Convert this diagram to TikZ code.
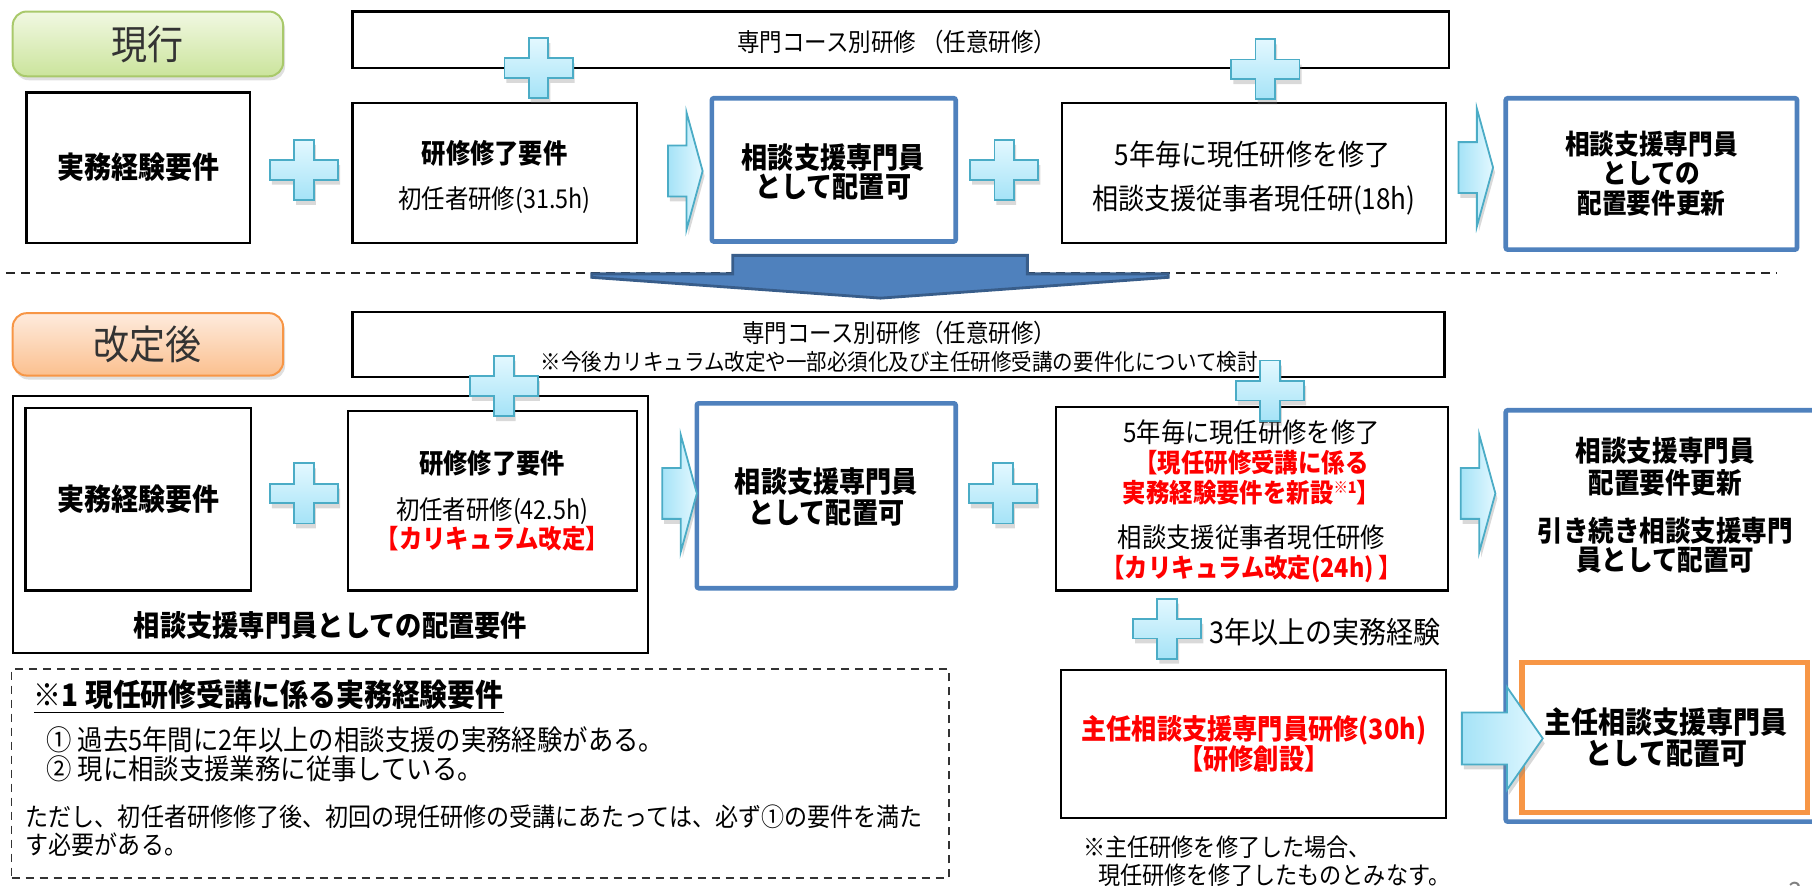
\documentclass[tikz,border=0pt]{standalone}
\usepackage{fontspec}
\setmainfont{Noto Sans CJK JP}[FakeStretch=0.9]
\usetikzlibrary{fit,shadows}
\definecolor{bluebox}{HTML}{4F81BD}
\definecolor{bluedark}{HTML}{385D8A}
\definecolor{cyanedge}{HTML}{4BACC6}
\definecolor{cyantop}{HTML}{E3F8FF}
\definecolor{cyanbot}{HTML}{A5E3F7}
\definecolor{orangeedge}{HTML}{F79646}
\definecolor{orangetop}{HTML}{FEEBDD}
\definecolor{orangebot}{HTML}{FBC08F}
\definecolor{greenedge}{HTML}{A9C96B}
\definecolor{greentop}{HTML}{F1F8E2}
\definecolor{greenbot}{HTML}{CBE49C}
\definecolor{redtxt}{HTML}{FF0000}
\newcommand\myfs[1]{\fontsize{#1}{#1}\selectfont}
\tikzset{
  box/.style={draw=black, line width=1.1pt, inner sep=0pt},
  bluebx/.style={draw=bluebox, line width=2.3pt, inner sep=0pt, rounded corners=1pt},
  orangebx/.style={draw=orangeedge, line width=2.6pt, inner sep=0pt},
  tagbox/.style={inner sep=0pt, rounded corners=7pt, line width=1pt,
     drop shadow={shadow xshift=1pt, shadow yshift=-2pt, opacity=0.25}},
  tagG/.style={tagbox, draw=greenedge, top color=greentop, bottom color=greenbot},
  tagO/.style={tagbox, draw=orangeedge, top color=orangetop, bottom color=orangebot},
  tagtxt/.style={inner sep=0pt, text=black!80, font=\myfs{20}},
  txt/.style={inner sep=0pt, align=center},
  redb/.style={txt, text=redtxt, font={\myfs{#1}\bfseries}},
  cyanshape/.style={draw=cyanedge, line width=0.9pt,
     drop shadow={shadow xshift=1pt, shadow yshift=-2.5pt, opacity=0.3}},
  pics/plusmark/.style={code={
    \path[cyanshape, top color=cyantop, bottom color=cyanbot]
      (-29.5,-8.5) -- (-8.5,-8.5) -- (-8.5,-26) -- (8.5,-26) -- (8.5,-8.5) -- (29.5,-8.5)
      -- (29.5,8.5) -- (8.5,8.5) -- (8.5,26) -- (-8.5,26) -- (-8.5,8.5) -- (-29.5,8.5) -- cycle;}},
  pics/rarrowsmall/.style={code={
    \path[cyanshape, left color=cyanbot, right color=cyantop]
      (0,-22) -- (16,-22) -- (16,-51) -- (30,0) -- (16,51) -- (16,22) -- (0,22) -- cycle;}},
  pics/rarrowbig/.style={code={
    \path[cyanshape, left color=cyanbot, right color=cyantop]
      (0,-22.5) -- (39,-22.5) -- (39,-44.5) -- (70,0) -- (39,44.5) -- (39,22.5) -- (0,22.5) -- cycle;}}
}
\begin{document}
\begin{tikzpicture}[x=0.5778pt, y=-0.5778pt]
\useasboundingbox (0,0) rectangle (1568,766);

% ---------------- current ----------------
\node[tagG, fit={(11,10) (245,66)}] (tag1) {};
\node[tagtxt] (tag1t) at (128,38) {現行};
\node[box, fit={(305,10) (1254,59)}] (course1) {};
\node[txt, font=\myfs{12.5}] (course1t) at (776,36) {専門コース別研修 （任意研修）};
\node[box, fit={(23,80) (216,210)}] (req1) {};
\node[txt, font={\myfs{15}\bfseries}] (req1t) at (119.5,145) {実務経験要件};
\node[box, fit={(305,89) (551,210)}] (trn1) {};
\node[txt, font={\myfs{13.5}\bfseries}] (trn1a) at (428,133) {研修修了要件};
\node[txt, font=\myfs{13}] (trn1b) at (428,173) {初任者研修(31.5h)};
\node[bluebx, fit={(616,85) (827,209)}] (pos1) {};
\node[txt, font={\myfs{14.5}\bfseries}] (pos1a) at (721,136) {相談支援専門員};
\node[txt, font={\myfs{14.5}\bfseries}] (pos1b) at (721,162) {として配置可};
\node[box, fit={(919,89) (1251,210)}] (ren1) {};
\node[txt, font=\myfs{14.5}] (ren1a) at (1084,134) {5年毎に現任研修を修了};
\node[txt, font=\myfs{14.5}] (ren1b) at (1085,173) {相談支援従事者現任研(18h)};
\node[bluebx, fit={(1303,85) (1555,216)}] (upd1) {};
\node[txt, font={\myfs{13.7}\bfseries}] (upd1a) at (1429,125) {相談支援専門員};
\node[txt, font={\myfs{13.7}\bfseries}] (upd1b) at (1429,150) {としての};
\node[txt, font={\myfs{13.7}\bfseries}] (upd1c) at (1429,176) {配置要件更新};

\pic at (466,59) {plusmark};
\pic at (1095,60) {plusmark};
\pic at (263,147) {plusmark};
\pic at (869,147) {plusmark};
\pic at (578,148) {rarrowsmall};
\pic at (1262,145) {rarrowsmall};

% ---------------- separator ----------------
\coordinate (sepL) at (5,236);
\coordinate (sepR) at (1538,236);
\draw[black!85, line width=0.8pt, dash pattern=on 4.5pt off 3pt] (sepL) -- (sepR);
\path[fill=bluebox, draw=bluedark, line width=1.4pt, line join=miter]
  (634,221) -- (889,221) -- (889,237) -- (1011,237) -- (1011,240) -- (762,258)
  -- (512,240) -- (512,237) -- (634,237) -- cycle;

% ---------------- revised ----------------
\node[tagO, fit={(11,271) (245,325)}] (tag2) {};
\node[tagtxt] (tag2t) at (128,298) {改定後};
\node[box, fit={(305,270) (1250,326)}] (course2) {};
\node[txt, font=\myfs{12.5}] (course2a) at (778,288) {専門コース別研修（任意研修）};
\node[txt, font=\myfs{11.4}] (course2b) at (778,313) {※今後カリキュラム改定や一部必須化及び主任研修受講の要件化について検討};

\node[box, fit={(11,343) (561,565)}] (outer) {};
\node[box, fit={(22,353) (217,511)}] (req2) {};
\node[txt, font={\myfs{15}\bfseries}] (req2t) at (119.5,432) {実務経験要件};
\node[box, fit={(301,356) (551,511)}] (trn2) {};
\node[txt, font={\myfs{13.5}\bfseries}] (trn2a) at (426,401) {研修修了要件};
\node[txt, font=\myfs{13}] (trn2b) at (426,442) {初任者研修(42.5h)};
\node[redb=13] (trn2c) at (426,466) {【カリキュラム改定】};
\node[txt, font={\myfs{14.6}\bfseries}] (outerlbl) at (286,541) {相談支援専門員としての配置要件};

\node[bluebx, fit={(603,349) (827,509)}] (pos2) {};
\node[txt, font={\myfs{14.5}\bfseries}] (pos2a) at (715,417) {相談支援専門員};
\node[txt, font={\myfs{14.5}\bfseries}] (pos2b) at (715,444) {として配置可};

\node[box, fit={(914,352) (1253,511)}] (ren2) {};
\node[txt, font=\myfs{13.5}] (ren2a) at (1083,374) {5年毎に現任研修を修了};
\node[redb=13] (ren2b) at (1083,400) {【現任研修受講に係る};
\node[redb=13] (ren2c) at (1083,426) {実務経験要件を新設\raisebox{4.5pt}{\myfs{8}※1}】};
\node[txt, font=\myfs{13.5}] (ren2d) at (1083,465) {相談支援従事者現任研修};
\node[redb=13] (ren2e) at (1083,492) {【カリキュラム改定(24h)\,】};

\node[bluebx, fit={(1303,355) (1575,711)}] (upd2) {};
\node[txt, font={\myfs{14.2}\bfseries}] (upd2a) at (1441,390) {相談支援専門員};
\node[txt, font={\myfs{14.2}\bfseries}] (upd2b) at (1441,418) {配置要件更新};
\node[txt, font={\myfs{14.2}\bfseries}] (upd2c) at (1441,459) {引き続き相談支援専門};
\node[txt, font={\myfs{14.2}\bfseries}] (upd2d) at (1441,485) {員として配置可};
\node[orangebx, fill=white, fit={(1317,573) (1564,703)}] (chief) {};
\node[txt, font={\myfs{15}\bfseries}] (chiefa) at (1442,625) {主任相談支援専門員};
\node[txt, font={\myfs{15}\bfseries}] (chiefb) at (1442,652) {として配置可};

\node[box, fit={(918,580) (1251,708)}] (ctrn) {};
\node[redb=14] (ctrna) at (1085,632) {主任相談支援専門員研修(30h)};
\node[redb=14] (ctrnb) at (1085,657) {【研修創設】};
\node[txt, anchor=west, font=\myfs{15}] (exp3) at (1046,547) {3年以上の実務経験};
\node[txt, anchor=west, font=\myfs{12.3}] (cnote1) at (937,733) {※主任研修を修了した場合、};
\node[txt, anchor=west, font=\myfs{12.3}] (cnote2) at (950,757) {現任研修を修了したものとみなす。};

\pic at (436,334) {plusmark};
\pic at (1099,338) {plusmark};
\pic at (263,427) {plusmark};
\pic at (868,427) {plusmark};
\pic at (1010,544) {plusmark};
\pic at (573,427) {rarrowsmall};
\pic at (1264,427) {rarrowsmall};
\pic at (1265,639) {rarrowbig};

% ---------------- note box ----------------
\node[draw=black!80, line width=0.9pt, dash pattern=on 4pt off 3pt, inner sep=0pt,
      fit={(10,579) (821,760)}] (note) {};
\node[txt, anchor=west, font={\myfs{15.5}\bfseries}] (notet) at (29,603) {\underline{※1 現任研修受講に係る実務経験要件}};
\node[txt, anchor=west, font=\myfs{14.1}] (note1) at (40,640) {① 過去5年間に2年以上の相談支援の実務経験がある。};
\node[txt, anchor=west, font=\myfs{14.1}] (note2) at (40,665) {② 現に相談支援業務に従事している。};
\node[txt, anchor=west, font=\myfs{12.8}] (note3) at (22,707) {ただし、初任者研修修了後、初回の現任研修の受講にあたっては、必ず①の要件を満た};
\node[txt, anchor=west, font=\myfs{12.8}] (note4) at (22,731) {す必要がある。};

\node[txt, font=\myfs{14}, text=black!50] (pagenum) at (1554,772) {3};
\end{tikzpicture}
\end{document}
